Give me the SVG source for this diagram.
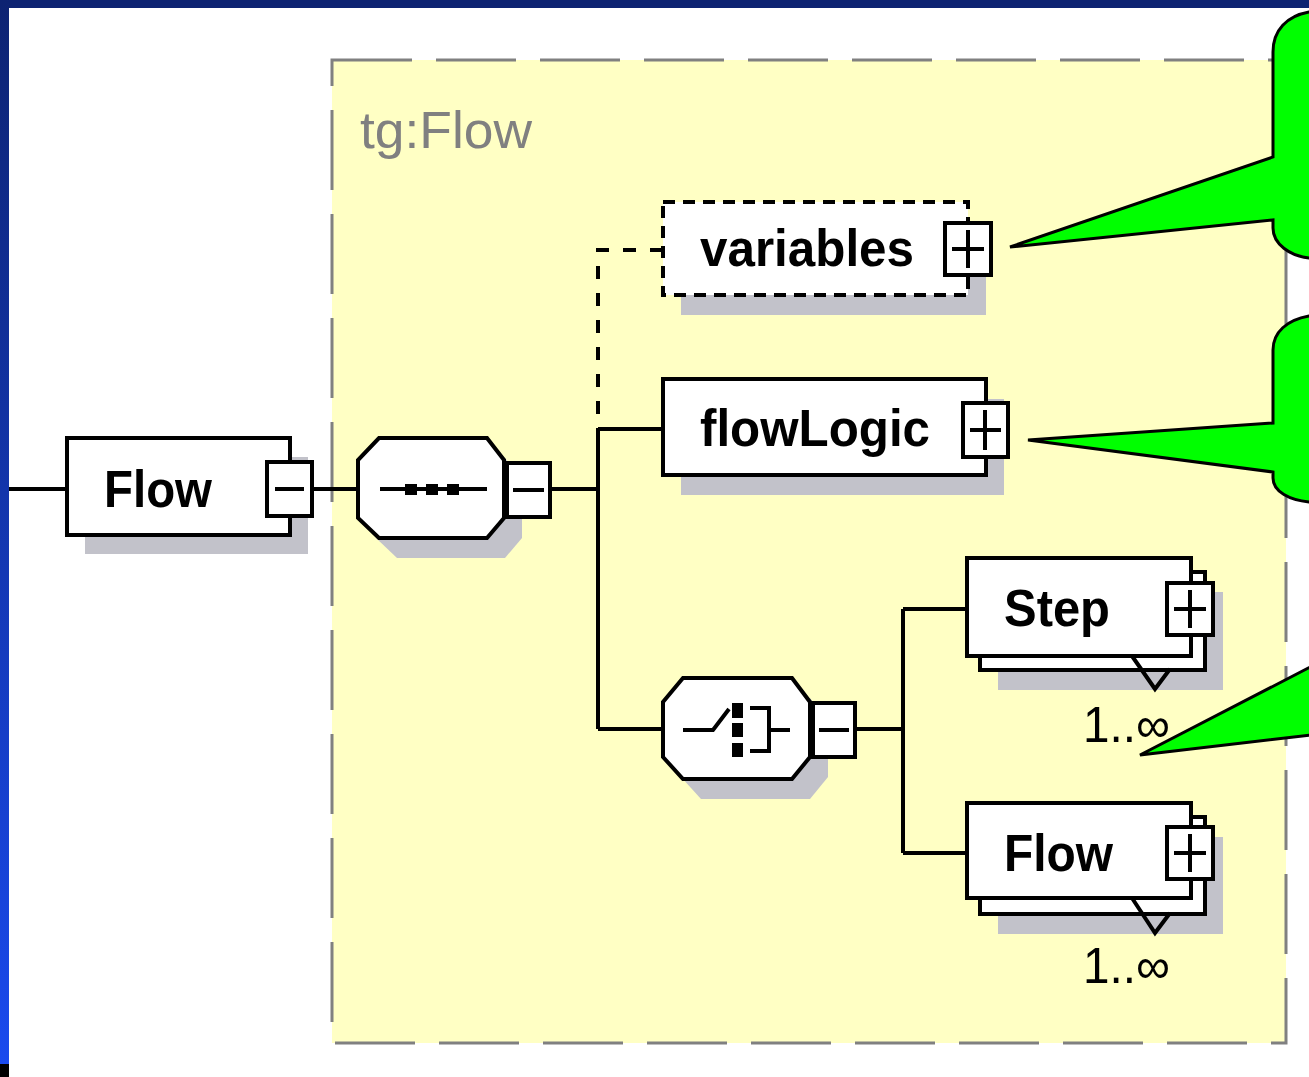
<svg xmlns="http://www.w3.org/2000/svg" width="1309" height="1077" viewBox="0 0 1309 1077">
  <style>
    .node { fill: #ffffff; stroke: #000000; stroke-width: 4; }
    .dashed { stroke-dasharray: 12 8; }
    .shadow { fill: #c2c2ca; stroke: none; }
    .sign { fill: none; stroke: #000000; stroke-width: 4; }
    .wire { fill: none; stroke: #000000; stroke-width: 4; }
    .wire-opt { fill: none; stroke: #000000; stroke-width: 4; stroke-dasharray: 13 14; }
    .label { font-family: "Liberation Sans", Arial, sans-serif; font-weight: bold; font-size: 52px; fill: #000000; }
    .occurs { font-family: "Liberation Sans", Arial, sans-serif; font-size: 50px; fill: #000000; }
    .typename { font-family: "Liberation Sans", Arial, sans-serif; font-size: 52px; fill: #808080; }
    .callout { fill: #00ff00; stroke: #000000; stroke-width: 3; stroke-linejoin: miter; }
  </style>
  <defs>
    <linearGradient id="sideBar" x1="0" y1="0" x2="0" y2="1">
      <stop offset="0" stop-color="#0d2372"/>
      <stop offset="1" stop-color="#1a4aee"/>
    </linearGradient>
  </defs>

  <!-- page background and slide frame -->
  <rect x="0" y="0" width="1309" height="1077" fill="#ffffff"/>
  <rect x="0" y="0" width="1309" height="8" fill="#0d2372"/>
  <rect x="0" y="0" width="9" height="1064" fill="url(#sideBar)"/>
  <rect x="0" y="1064" width="9" height="13" fill="#000000"/>

  <!-- complex type frame -->
  <g id="type-tgFlow">
    <rect x="332" y="60" width="954" height="983" fill="#ffffc4" stroke="#808080" stroke-width="3" stroke-dasharray="80 24"/>
    <text class="typename" x="360" y="148" textLength="172" lengthAdjust="spacingAndGlyphs">tg:Flow</text>
  </g>

  <!-- connectors -->
  <g id="connectors">
    <path class="wire" d="M9,489 H67"/>
    <path class="wire" d="M312,489 H358"/>
    <path class="wire" d="M550,489 H598"/>
    <path class="wire-opt" d="M663,250 H598 V429"/>
    <path class="wire" d="M598,429 V729"/>
    <path class="wire" d="M598,429 H663"/>
    <path class="wire" d="M598,729 H663"/>
    <path class="wire" d="M855,729 H903"/>
    <path class="wire" d="M903,609 V853"/>
    <path class="wire" d="M903,609 H967"/>
    <path class="wire" d="M903,853 H967"/>
  </g>

  <!-- root element Flow -->
  <g id="node-flow-root">
    <rect class="shadow" x="85" y="457" width="223" height="97"/>
    <rect class="node" x="67" y="438" width="223" height="97"/>
    <text class="label" x="104" y="507" textLength="108" lengthAdjust="spacingAndGlyphs">Flow</text>
    <rect class="node" x="267" y="462" width="45" height="54"/>
    <path class="sign" d="M275,489 H304"/>
  </g>

  <!-- sequence compositor -->
  <g id="node-sequence">
    <polygon class="shadow" points="397,458 505,458 522,480 522,538 505,558 397,558 376,538 376,480"/>
    <polygon class="node" points="379,438 487,438 504,460 504,518 487,538 379,538 358,518 358,460"/>
    <path class="sign" d="M380,489 H487" stroke-width="3"/>
    <rect x="405" y="484" width="12" height="11" fill="#000000"/>
    <rect x="426" y="484" width="12" height="11" fill="#000000"/>
    <rect x="447" y="484" width="12" height="11" fill="#000000"/>
    <rect class="node" x="507" y="463" width="43" height="54"/>
    <path class="sign" d="M513,490 H544"/>
  </g>

  <!-- optional element variables -->
  <g id="node-variables">
    <rect class="shadow" x="681" y="221" width="305" height="94"/>
    <rect class="node dashed" x="663" y="202" width="305" height="93"/>
    <text class="label" x="700" y="266" textLength="214" lengthAdjust="spacingAndGlyphs">variables</text>
    <rect class="node" x="945" y="223" width="46" height="52"/>
    <path class="sign" d="M952,249 H984 M968,230 V268"/>
  </g>

  <!-- element flowLogic -->
  <g id="node-flowLogic">
    <rect class="shadow" x="681" y="399" width="323" height="96"/>
    <rect class="node" x="663" y="379" width="323" height="96"/>
    <text class="label" x="700" y="446" textLength="230" lengthAdjust="spacingAndGlyphs">flowLogic</text>
    <rect class="node" x="963" y="403" width="45" height="54"/>
    <path class="sign" d="M970,430 H1001 M985,410 V450"/>
  </g>

  <!-- choice compositor -->
  <g id="node-choice">
    <polygon class="shadow" points="701,698 810,698 828,722 828,777 810,799 701,799 681,777 681,722"/>
    <polygon class="node" points="683,678 792,678 810,702 810,757 792,779 683,779 663,757 663,702"/>
    <path class="sign" d="M683,730 H713 L729,709" stroke-width="3.5"/>
    <rect x="732" y="703" width="11" height="15" fill="#000000"/>
    <rect x="732" y="723" width="11" height="14" fill="#000000"/>
    <rect x="732" y="743" width="11" height="14" fill="#000000"/>
    <path class="sign" d="M750,708 H769 V751 H750 M769,730 H790" stroke-width="3.5"/>
    <rect class="node" x="813" y="703" width="42" height="54"/>
    <path class="sign" d="M819,730 H849"/>
  </g>

  <!-- repeated element Step -->
  <g id="node-step">
    <rect class="shadow" x="998" y="592" width="225" height="98"/>
    <rect class="node" x="980" y="572" width="225" height="98"/>
    <path class="sign" d="M1132,656 L1155,689 L1170,669" stroke-width="3"/>
    <rect class="node" x="967" y="558" width="224" height="98"/>
    <text class="label" x="1004" y="626" textLength="106" lengthAdjust="spacingAndGlyphs">Step</text>
    <rect class="node" x="1167" y="583" width="46" height="52"/>
    <path class="sign" d="M1174,609 H1206 M1190,590 V628"/>
    <text class="occurs" x="1083" y="742" textLength="87" lengthAdjust="spacingAndGlyphs">1..∞</text>
  </g>

  <!-- repeated element Flow -->
  <g id="node-flow-child">
    <rect class="shadow" x="998" y="837" width="225" height="97"/>
    <rect class="node" x="980" y="817" width="225" height="97"/>
    <path class="sign" d="M1132,898 L1155,933 L1170,913" stroke-width="3"/>
    <rect class="node" x="967" y="803" width="224" height="95"/>
    <text class="label" x="1004" y="871" textLength="109" lengthAdjust="spacingAndGlyphs">Flow</text>
    <rect class="node" x="1167" y="827" width="46" height="52"/>
    <path class="sign" d="M1174,853 H1206 M1190,834 V872"/>
    <text class="occurs" x="1083" y="983" textLength="87" lengthAdjust="spacingAndGlyphs">1..∞</text>
  </g>

  <!-- speech-bubble callouts -->
  <g id="callouts">
    <path class="callout" d="M1320,12 L1309,12 C1287,16 1273,30 1273,52 L1273,157 L1010,247 L1273,220 L1273,228 C1273,244 1290,256 1309,258 L1320,258 Z"/>
    <path class="callout" d="M1320,316 L1309,316 C1287,320 1273,332 1273,350 L1273,423 L1028,440 L1273,472 L1273,478 C1273,492 1290,500 1309,502 L1320,502 Z"/>
    <path class="callout" d="M1320,662 L1140,755 L1320,734 Z"/>
  </g>
</svg>
